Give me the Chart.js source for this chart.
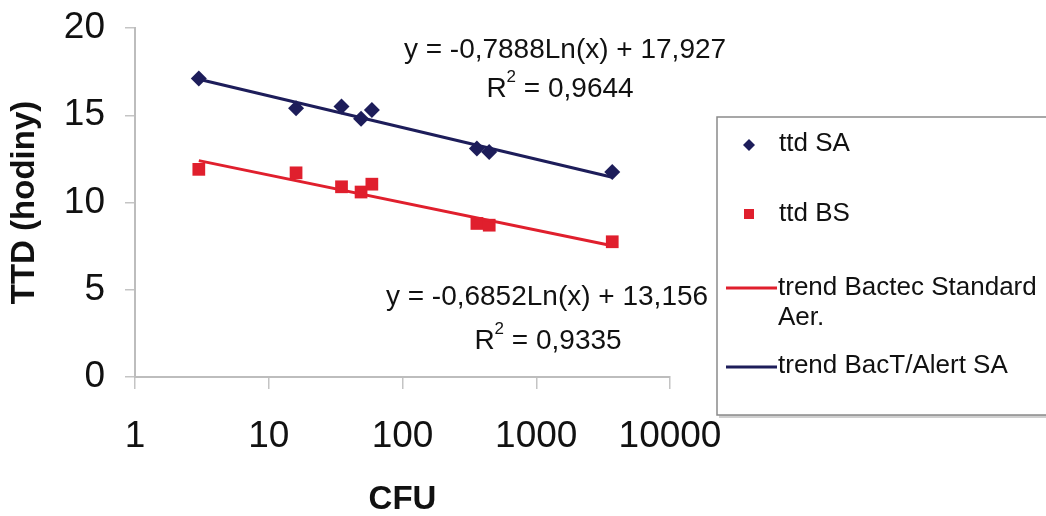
<!DOCTYPE html>
<html>
<head>
<meta charset="utf-8">
<script src="https://cdn.jsdelivr.net/npm/chart.js@4"></script>
<style>
  html, body { margin: 0; padding: 0; background: #fff; }
  #wrap { width: 1046px; height: 516px; position: relative; }
</style>
</head>
<body>
<div id="wrap"><canvas id="chart" width="1046" height="516"></canvas></div>
<script>
// CFU values (x) and time to detection (y, hours)
const cfuValues = [3, 16, 35, 49, 59, 360, 445, 3700];
const ttdSA = [17.1, 15.4, 15.5, 14.8, 15.3, 13.1, 12.9, 11.75];
const ttdBS = [11.9, 11.7, 10.9, 10.6, 11.05, 8.8, 8.7, 7.75];

// trend line end points
const trendX = [3, 3700];
const trendSA = [17.06, 11.45];
const trendBS = [12.40, 7.52];

const xTicks = [1, 10, 100, 1000, 10000];
const yTicks = [0, 5, 10, 15, 20];

const BLUE = '#1d1d5a';
const RED = '#e01f2d';
const FONT = "'Liberation Sans', Arial, sans-serif";

const toPoints = (xs, ys) => xs.map((x, i) => ({ x, y: ys[i] }));

// equations and legend drawn on top of the chart
const extras = {
  id: 'extras',
  afterDraw(chart) {
    const ctx = chart.ctx;
    ctx.save();
    ctx.fillStyle = '#111';
    ctx.textBaseline = 'middle';

    function rSquared(text, cx, cy) {
      ctx.font = '28px ' + FONT;
      const wR = ctx.measureText('R').width;
      ctx.font = '17px ' + FONT;
      const w2 = ctx.measureText('2').width;
      ctx.font = '28px ' + FONT;
      const wRest = ctx.measureText(text).width;
      let x = cx - (wR + w2 + wRest) / 2;
      ctx.textAlign = 'left';
      ctx.fillText('R', x, cy);
      ctx.font = '17px ' + FONT;
      ctx.fillText('2', x + wR, cy - 12);
      ctx.font = '28px ' + FONT;
      ctx.fillText(text, x + wR + w2, cy);
    }

    ctx.font = '28px ' + FONT;
    ctx.textAlign = 'center';
    ctx.fillText('y = -0,7888Ln(x) + 17,927', 565, 50);
    rSquared(' = 0,9644', 560, 89);
    ctx.textAlign = 'center';
    ctx.fillText('y = -0,6852Ln(x) + 13,156', 547, 297);
    rSquared(' = 0,9335', 548, 341);

    // legend box
    ctx.fillStyle = '#cfcfcf';
    ctx.fillRect(719, 119, 340, 299);
    ctx.fillStyle = '#fff';
    ctx.strokeStyle = '#8a8a8a';
    ctx.lineWidth = 1.5;
    ctx.fillRect(717, 117, 340, 298);
    ctx.strokeRect(717, 117, 340, 298);

    ctx.font = '26px ' + FONT;
    ctx.textAlign = 'left';
    ctx.fillStyle = '#111';

    // diamond
    ctx.fillStyle = BLUE;
    ctx.beginPath();
    ctx.moveTo(749, 139); ctx.lineTo(755, 145); ctx.lineTo(749, 151); ctx.lineTo(743, 145);
    ctx.closePath(); ctx.fill();
    ctx.fillStyle = '#111';
    ctx.fillText('ttd SA', 779, 144);

    ctx.fillStyle = RED;
    ctx.fillRect(744, 209, 10, 10);
    ctx.fillStyle = '#111';
    ctx.fillText('ttd BS', 779, 214);

    ctx.lineWidth = 3;
    ctx.strokeStyle = RED;
    ctx.beginPath(); ctx.moveTo(726, 288); ctx.lineTo(777, 288); ctx.stroke();
    ctx.fillText('trend Bactec Standard', 778, 288);
    ctx.fillText('Aer.', 778, 318);

    ctx.strokeStyle = BLUE;
    ctx.beginPath(); ctx.moveTo(726, 367); ctx.lineTo(777, 367); ctx.stroke();
    ctx.fillText('trend BacT/Alert SA', 778, 366);

    ctx.restore();
  }
};

new Chart(document.getElementById('chart'), {
  type: 'scatter',
  data: {
    datasets: [
      {
        label: 'trend Bactec Standard Aer.',
        data: toPoints(trendX, trendBS),
        showLine: true,
        borderColor: RED,
        borderWidth: 3,
        pointRadius: 0
      },
      {
        label: 'trend BacT/Alert SA',
        data: toPoints(trendX, trendSA),
        showLine: true,
        borderColor: BLUE,
        borderWidth: 3,
        pointRadius: 0
      },
      {
        label: 'ttd SA',
        data: toPoints(cfuValues, ttdSA),
        pointStyle: 'rectRot',
        pointRadius: 8,
        backgroundColor: BLUE,
        borderColor: BLUE,
        borderWidth: 0
      },
      {
        label: 'ttd BS',
        data: toPoints(cfuValues, ttdBS),
        pointStyle: 'rect',
        pointRadius: 9,
        backgroundColor: RED,
        borderColor: RED,
        borderWidth: 0
      }
    ]
  },
  options: {
    responsive: false,
    animation: false,
    layout: { padding: { top: 28, right: 376, left: 0, bottom: 0 } },
    plugins: {
      legend: { display: false },
      tooltip: { enabled: false }
    },
    scales: {
      x: {
        type: 'logarithmic',
        min: 1,
        max: 10000,
        afterBuildTicks: scale => { scale.ticks = xTicks.map(v => ({ value: v })); },
        afterFit: scale => { scale.height = 139; },
        grid: { drawOnChartArea: false, tickLength: 12, color: '#c4c4c4', lineWidth: 1.5 },
        border: { color: '#bdbdbd', width: 2 },
        ticks: {
          color: '#111',
          font: { size: 37, family: FONT },
          padding: 26,
          maxRotation: 0,
          callback: v => String(v)
        },
        title: {
          display: true,
          text: 'CFU',
          color: '#111',
          font: { size: 33, weight: 'bold', family: FONT, lineHeight: 1 },
          padding: { top: 0, bottom: 0 }
        }
      },
      y: {
        min: 0,
        max: 20,
        afterBuildTicks: scale => { scale.ticks = yTicks.map(v => ({ value: v })); },
        afterFit: scale => {
          scale.width = 135;
          scale.paddingTop = 0;
          scale.paddingBottom = 0;
        },
        grid: { drawOnChartArea: false, tickLength: 10, color: '#c4c4c4', lineWidth: 1.5 },
        border: { color: '#bdbdbd', width: 2 },
        ticks: {
          color: '#111',
          font: { size: 37, family: FONT },
          padding: 20
        },
        title: {
          display: true,
          text: 'TTD (hodiny)',
          color: '#111',
          font: { size: 33, weight: 'bold', family: FONT, lineHeight: 1 },
          padding: { top: 8, bottom: 0 }
        }
      }
    }
  },
  plugins: [extras]
});
</script>
</body>
</html>
